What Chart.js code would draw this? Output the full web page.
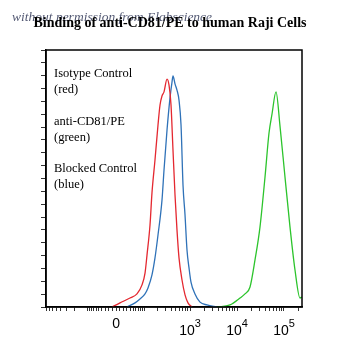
<!DOCTYPE html>
<html>
<head>
<meta charset="utf-8">
<script src="https://cdn.jsdelivr.net/npm/chart.js"></script>
<style>
  html, body { margin: 0; padding: 0; background: #fff; }
  #wrap { width: 343px; height: 353px; position: relative; }
</style>
</head>
<body>
<div id="wrap"><canvas id="myChart"></canvas></div>

<script>
// x is in display decades of the biexponential axis (10^3 -> 3, 10^4 -> 4 ...), y is % of max
const isotypeX = [1.340, 1.511, 1.723, 1.872, 1.979, 2.043, 2.085, 2.149, 2.191, 2.255, 2.319, 2.362, 2.404, 2.447, 2.511, 2.553, 2.596, 2.638, 2.681, 2.723, 2.766, 2.830, 2.894, 2.957, 3.043];
const isotypeY = [0, 1.6, 3.5, 5.1, 8.6, 13.2, 20.2, 31.9, 44.4, 57.2, 70.8, 78.6, 82.1, 83.7, 88.7, 86.4, 78.6, 61.1, 43.6, 30.0, 19.1, 10.5, 4.7, 1.6, 0];

const cd81X = [3.574, 3.851, 4.064, 4.170, 4.277, 4.383, 4.489, 4.596, 4.681, 4.745, 4.830, 4.915, 5.021, 5.128, 5.234, 5.340, 5.383];
const cd81Y = [0, 0.8, 3.5, 5.1, 7.8, 18.3, 31.1, 50.6, 67.7, 75.1, 83.7, 70.4, 50.6, 31.1, 14.4, 3.5, 3.9];

const blockedX = [1.660, 1.830, 1.936, 2.043, 2.106, 2.191, 2.255, 2.319, 2.404, 2.447, 2.511, 2.574, 2.617, 2.638, 2.681, 2.723, 2.766, 2.809, 2.851, 2.894, 2.936, 2.979, 3.021, 3.106, 3.213, 3.362, 3.574];
const blockedY = [0, 1.6, 3.1, 5.1, 7.4, 12.5, 19.1, 28.0, 41.6, 53.3, 68.9, 81.3, 87.5, 89.9, 86.8, 84.4, 80.5, 70.8, 47.5, 35.8, 22.2, 15.2, 9.7, 5.1, 1.9, 0.8, 0];

// axis labels
const ZERO = 1.426;
const tickValues = [ZERO, 3, 4, 5];
const tickBase = ['0', '10', '10', '10'];
const tickExp = ['', '3', '4', '5'];

const legendLines = ['Isotype Control', '(red)', 'anti-CD81/PE', '(green)', 'Blocked Control', '(blue)'];
const legendBaselines = [77, 93, 125, 141, 172, 188];

// biexponential position of a raw intensity, used for the minor ticks
function toAxis(v) {
  return ZERO + Math.asinh(v / 53.3) / Math.LN10;
}
const minorTicks = [];
[10, 20, 30, 40, 50, 60, 70, 80, 90, 100, 200, 300, 400, 500, 600, 700, 800].forEach(function(v) {
  minorTicks.push(toAxis(-v));
  minorTicks.push(toAxis(v));
});
[900, 2000, 3000, 4000, 5000, 6000, 7000, 8000, 9000, 20000, 30000, 40000, 50000, 60000, 70000, 80000, 90000, 200000].forEach(function(v) {
  minorTicks.push(toAxis(v));
});

function pts(xs, ys) {
  return xs.map(function(x, i) { return { x: x, y: ys[i] }; });
}

const frame = {
  id: 'frame',
  afterDraw(chart) {
    const ctx = chart.ctx;
    const a = chart.chartArea;
    ctx.save();
    ctx.strokeStyle = '#000';
    ctx.lineWidth = 1.5;
    ctx.strokeRect(a.left, a.top, a.right - a.left, a.bottom - a.top);

    // legend text
    ctx.fillStyle = '#000';
    ctx.font = '12.5px "Liberation Serif", serif';
    ctx.textAlign = 'left';
    ctx.textBaseline = 'alphabetic';
    legendLines.forEach(function(t, i) {
      ctx.fillText(t, 54, legendBaselines[i]);
    });

    // x tick labels with superscripts
    const xs = chart.scales.x;
    tickValues.forEach(function(v, i) {
      const px = xs.getPixelForValue(v);
      ctx.font = '14px "Liberation Sans", Arial, sans-serif';
      const wb = ctx.measureText(tickBase[i]).width;
      ctx.font = '11px "Liberation Sans", Arial, sans-serif';
      const we = ctx.measureText(tickExp[i]).width;
      let x0 = px - (wb + we) / 2;
      ctx.font = '14px "Liberation Sans", Arial, sans-serif';
      ctx.fillText(tickBase[i], x0, tickExp[i] ? 335 : 328);
      if (tickExp[i]) {
        ctx.font = '11px "Liberation Sans", Arial, sans-serif';
        ctx.fillText(tickExp[i], x0 + wb, 327);
      }
    });

    // watermark and title
    ctx.font = 'italic 13.5px "Liberation Serif", serif';
    ctx.fillStyle = 'rgba(40, 48, 80, 0.8)';
    ctx.fillText('without permission from Elabscience', 12, 21);
    ctx.font = 'bold 14px "Liberation Serif", serif';
    ctx.fillStyle = '#000';
    ctx.textAlign = 'center';
    ctx.fillText('Binding of anti-CD81/PE to human Raji Cells', 170, 27);
    ctx.restore();
  }
};

const config = {
  type: 'line',
  data: {
    datasets: [
      { label: 'Isotype Control', data: pts(isotypeX, isotypeY), borderColor: '#e42830' },
      { label: 'Blocked Control', data: pts(blockedX, blockedY), borderColor: '#2f72b8' },
      { label: 'anti-CD81/PE', data: pts(cd81X, cd81Y), borderColor: '#2cc42c' }
    ]
  },
  options: {
    responsive: true,
    maintainAspectRatio: false,
    animation: false,
    devicePixelRatio: 1,
    layout: { padding: { top: 50, right: 41, left: 0, bottom: 0 } },
    elements: {
      line: { borderWidth: 1.3, tension: 0.25, cubicInterpolationMode: 'monotone', fill: false },
      point: { radius: 0 }
    },
    plugins: { legend: { display: false }, tooltip: { enabled: false } },
    scales: {
      x: {
        type: 'linear',
        min: -0.064,
        max: 5.383,
        afterBuildTicks: function(s) {
          s.ticks = tickValues.concat(minorTicks).map(function(v) { return { value: v }; });
        },
        afterFit: function(s) { s.height = 46; },
        ticks: { display: false },
        grid: { drawOnChartArea: false, tickLength: 4, tickColor: '#333' },
        border: { color: '#000', width: 1.5 }
      },
      y: {
        min: 0,
        max: 100,
        ticks: { display: false, stepSize: 5 },
        afterFit: function(s) { s.width = 46; },
        grid: { drawOnChartArea: false, tickLength: 5, tickColor: '#333' },
        border: { color: '#000', width: 1.5 }
      }
    }
  },
  plugins: [frame]
};

var myChart = new Chart(document.getElementById('myChart'), config);
</script>
</body>
</html>
